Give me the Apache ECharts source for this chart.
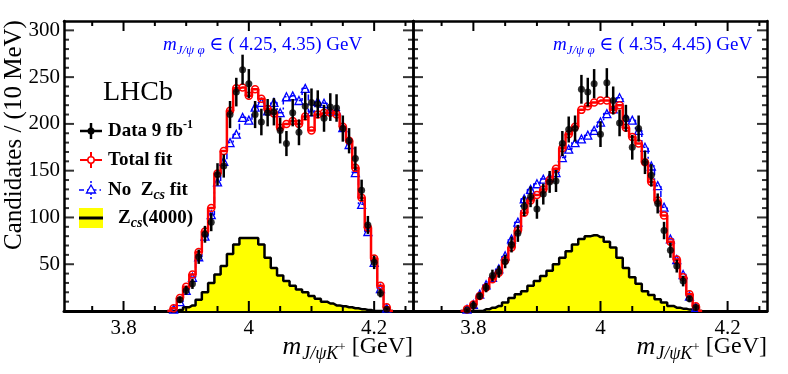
<!DOCTYPE html>
<html>
<head>
<meta charset="utf-8">
<script src="https://cdn.jsdelivr.net/npm/echarts@6/dist/echarts.min.js"></script>
<style>
  html, body { margin: 0; padding: 0; background: #fff; }
  #chart { width: 788px; height: 374px; }
</style>
</head>
<body>
<div id="chart"></div>
<script>
// bin centres, 10 MeV bins [GeV]
const leftBins = [3.87, 3.88, 3.89, 3.90, 3.91, 3.92, 3.93, 3.94, 3.95, 3.96, 3.97, 3.98, 3.99,
  4.00, 4.01, 4.02, 4.03, 4.04, 4.05, 4.06, 4.07, 4.08, 4.09, 4.10, 4.11, 4.12, 4.13, 4.14,
  4.15, 4.16, 4.17, 4.18, 4.19, 4.20, 4.21, 4.22, 4.23];
const rightBins = [3.78, 3.79, 3.80, 3.81, 3.82, 3.83, 3.84, 3.85, 3.86, 3.87, 3.88, 3.89, 3.90,
  3.91, 3.92, 3.93, 3.94, 3.95, 3.96, 3.97, 3.98, 3.99, 4.00, 4.01, 4.02, 4.03, 4.04, 4.05,
  4.06, 4.07, 4.08, 4.09, 4.10, 4.11, 4.12, 4.13, 4.14, 4.15, 4.16];

// m(J/psi phi) in (4.25, 4.35) GeV
const leftData = [null, null, 12, 22, 29, 58, 82, 95, 146, 155, 210, 234, 258, 243, 210, 202, 212,
  213, 193, 179, 212, 191, 219, 223, 221, 206, 218, 217, 195, 182, 163, 129, 92, 52, 19, 2, null];
const leftErr = [null, null, 3.5, 4.7, 5.4, 7.6, 9, 9.7, 12, 12.4, 14.5, 15.3, 16, 15.6, 14.5, 14.2,
  14.6, 14.6, 13.9, 13.4, 14.6, 13.8, 14.8, 14.9, 14.9, 14.4, 14.8, 14.7, 14, 13.5, 12.8, 11.4,
  9.6, 7.2, 4.4, 1.4, null];
const leftTotal = [0, 3, 14, 26, 39, 63, 85, 110, 147, 171, 214, 238, 239, 230, 237, 227, 216, 211,
  196, 200, 203, 200, 208, 193, 210, 212, 212, 210, 197, 182, 153, 121, 89, 56, 27, 4, 0];
const leftNoZcs = [0, 2, 10, 22, 36, 58, 80, 103, 138, 160, 180, 189, 207, 204, 218, 223, 214, 223,
  212, 229, 230, 225, 238, 213, 224, 222, 214, 214, 196, 178, 148, 114, 85, 52, 24, 3, 0];
const leftZcs = [0, 0, 1, 4, 6, 12, 20, 30, 39, 48, 61, 71, 78, 78, 78, 71, 57, 46, 38, 32, 27, 23,
  20, 16, 13, 10, 8, 6, 5, 4, 3, 2, 1, 0, 0, 0, 0];

// m(J/psi phi) in (4.35, 4.45) GeV
const rightData = [null, 1, 6, 16, 25, 38, 42, 53, 71, 83, 112, 122, 109, 125, 138, 139, 179, 194,
  195, 237, 234, 243, 189, 244, 225, 201, 206, 175, 195, 159, 145, 115, 86, 65, 48, 32, 13, 4, null];
const rightErr = [null, 1, 2.4, 4, 5, 6.2, 6.5, 7.3, 8.4, 9.1, 10.6, 11, 10.4, 11.2, 11.7, 11.8,
  13.4, 13.9, 14, 15.4, 15.3, 15.6, 13.7, 15.6, 15, 14.2, 14.4, 13.2, 14, 12.6, 12, 10.7, 9.3,
  8.1, 6.9, 5.7, 3.6, 2, null];
const rightTotal = [0, 2, 7, 16, 25, 34, 41, 54, 68, 86, 105, 118, 124, 130, 140, 152, 174, 189,
  197, 215, 219, 223, 225, 225, 215, 220, 196, 186, 179, 159, 138, 118, 102, 74, 55, 36, 18, 5, 0];
const rightNoZcs = [0, 2, 7, 18, 28, 36, 45, 59, 77, 95, 120, 130, 136, 141, 143, 148, 164, 173,
  180, 184, 188, 193, 202, 211, 216, 228, 207, 204, 193, 175, 155, 134, 111, 77, 55, 39, 16, 4, 0];
const rightZcs = [0, 0, 0, 0, 1.8, 3.6, 5.4, 9, 14, 18, 21, 27, 32, 37.5, 43, 50, 57, 64, 71, 77,
  80, 81, 79, 74, 68, 57, 46, 36, 29, 21, 17, 12.5, 9, 5.4, 3.6, 2.5, 1.5, 0, 0];

// axes and ticks
const xRange = [3.705, 4.262];
const xMajor = [3.8, 4, 4.2];
const xMinor = [3.75, 3.85, 3.9, 3.95, 4.05, 4.1, 4.15, 4.25];
const yRange = [0, 310];
const yMajor = [50, 100, 150, 200, 250, 300];
const yMinor = [10, 20, 30, 40, 60, 70, 80, 90, 110, 120, 130, 140, 160, 170, 180, 190,
  210, 220, 230, 240, 260, 270, 280, 290];

const serif = '"Liberation Serif", "DejaVu Serif", serif';
const BLUE = '#0000ff', RED = '#ff0000';

const panels = [
  { left: 64, top: 21, width: 349, height: 290 },
  { left: 413, top: 21, width: 354, height: 290 }
];

const chart = echarts.init(document.getElementById('chart'));

const pairs = (bins, vals) => bins.map((b, i) => [b, vals[i]]).filter(p => p[1] != null);
const triples = (bins, vals, errs) => bins.map((b, i) => [b, vals[i], errs[i]]).filter(p => p[1] != null);

const xAxis = [], yAxis = [];
panels.forEach((M, p) => {
  const xb = { type: 'value', gridIndex: p, min: xRange[0], max: xRange[1], splitLine: { show: false }, axisTick: { show: false } };
  xAxis.push(
    { ...xb, position: 'bottom', axisLine: { onZero: false, lineStyle: { color: '#000', width: 3 } },
      axisLabel: { customValues: xMajor, margin: 7, color: '#000', fontFamily: serif, fontSize: 21 } },
    { ...xb, position: 'top', axisLine: { onZero: false, lineStyle: { color: '#000', width: 2.5 } }, axisLabel: { show: false } }
  );
  const yb = { type: 'value', gridIndex: p, min: yRange[0], max: yRange[1], interval: 50, splitLine: { show: false }, axisTick: { show: false } };
  const line = { show: true, onZero: false, lineStyle: { color: '#000', width: 2.5 } };
  yAxis.push(
    { ...yb, position: 'left', axisLine: line,
      axisLabel: p === 0
        ? { margin: 4, color: '#000', fontFamily: serif, fontSize: 21, formatter: v => yMajor.includes(v) ? String(v) : '' }
        : { show: false } },
    { ...yb, position: 'right', axisLine: line, axisLabel: { show: false } }
  );
});

const tickColor = '#000';

// frame ticks along the bottom and top edges: custom series, coordinates from the panel scales
function xEdgeTicks(p) {
  const data = [...xMajor.map(v => [v, yRange[0], 10]), ...xMinor.map(v => [v, yRange[0], 5])];
  return {
    type: 'custom', name: 'x ticks', xAxisIndex: p * 2, yAxisIndex: p * 2, data, z: 6, silent: true,
    renderItem: (params, api) => {
      const v = api.value(0), len = api.value(2);
      const a = api.coord([v, yRange[0]]), b = api.coord([v, yRange[1]]);
      const style = { stroke: tickColor, lineWidth: 2 };
      return { type: 'group', children: [
        { type: 'line', shape: { x1: a[0], y1: a[1], x2: a[0], y2: a[1] - len }, style },
        { type: 'line', shape: { x1: b[0], y1: b[1], x2: b[0], y2: b[1] + len }, style }
      ] };
    }
  };
}

// frame ticks along the left and right edges: thin rect symbols nudged inward
function yEdgeTicks(p) {
  const data = [];
  [[yMajor, 10], [yMinor, 5]].forEach(([list, len]) => list.forEach(v => {
    data.push({ value: [xRange[0], v], symbolSize: [len, 2], symbolOffset: [len / 2, 0] });
    data.push({ value: [xRange[1], v], symbolSize: [len, 2], symbolOffset: [-len / 2, 0] });
  }));
  return {
    type: 'scatter', name: 'y ticks', xAxisIndex: p * 2, yAxisIndex: p * 2, data, z: 6, silent: true,
    symbol: 'rect', itemStyle: { color: tickColor }
  };
}

function panelSeries(p, bins, data, err, total, noZcs, zcs) {
  const ax = { xAxisIndex: p * 2, yAxisIndex: p * 2 };
  return [
    { ...ax, name: 'Zcs(4000)', type: 'line', step: 'middle', data: pairs(bins, zcs), symbol: 'none', z: 1,
      lineStyle: { color: '#000', width: 2.5 }, areaStyle: { color: '#ffff00', opacity: 1 } },
    { ...ax, name: 'No Zcs fit', type: 'line', step: 'middle', data: pairs(bins, noZcs), z: 2,
      symbol: v => v[1] > 0 ? 'triangle' : 'none', symbolSize: 8,
      itemStyle: { color: 'none', borderColor: BLUE, borderWidth: 1.3 },
      lineStyle: { color: BLUE, width: 1.5, type: [6, 3, 2, 3] } },
    { ...ax, name: 'Total fit', type: 'line', step: 'middle', data: pairs(bins, total), z: 3,
      symbol: v => v[1] > 0 ? 'circle' : 'none', symbolSize: 7,
      itemStyle: { color: 'none', borderColor: RED, borderWidth: 1.5 },
      lineStyle: { color: RED, width: 2.5 } },
    { ...ax, name: 'Data errors', type: 'custom', data: triples(bins, data, err), z: 4, clip: true,
      renderItem: (params, api) => {
        const x = api.value(0), v = api.value(1), e = api.value(2);
        const lo = api.coord([x, v - e]), hi = api.coord([x, v + e]);
        return { type: 'line', shape: { x1: lo[0], y1: lo[1], x2: hi[0], y2: hi[1] },
          style: { stroke: '#000', lineWidth: 2.5 } };
      } },
    { ...ax, name: 'Data 9 fb-1', type: 'scatter', data: pairs(bins, data), z: 5,
      symbol: 'circle', symbolSize: 7, itemStyle: { color: '#000' } },
    xEdgeTicks(p),
    yEdgeTicks(p)
  ];
}

// rich text styles
const xTitleRich = {
  m: { fontFamily: serif, fontStyle: 'italic', fontSize: 26, fill: '#000' },
  s: { fontFamily: serif, fontStyle: 'italic', fontSize: 18, padding: [14, 0, 0, 1], fill: '#000' },
  p: { fontFamily: serif, fontSize: 13, padding: [2, 0, 0, 0], fill: '#000' },
  t: { fontFamily: serif, fontSize: 24, fill: '#000' }
};
const rangeRich = {
  m: { fontFamily: serif, fontStyle: 'italic', fontSize: 19, fill: BLUE },
  s: { fontFamily: serif, fontStyle: 'italic', fontSize: 13, padding: [12, 0, 0, 0], fill: BLUE },
  t: { fontFamily: serif, fontSize: 19, fill: BLUE }
};
const legRich = {
  b: { fontFamily: serif, fontWeight: 'bold', fontSize: 19, fill: '#000' },
  sup: { fontFamily: serif, fontWeight: 'bold', fontSize: 12, padding: [0, 0, 12, 0], fill: '#000' },
  sub: { fontFamily: serif, fontWeight: 'bold', fontStyle: 'italic', fontSize: 14, padding: [10, 0, 0, 0], fill: '#000' }
};

const txt = (x, y, text, rich, align) => ({
  type: 'text', x, y, silent: true,
  style: { text, rich, align: align || 'left', verticalAlign: 'middle' }
});

const graphic = [
  { type: 'text', x: 14, y: 135, rotation: Math.PI / 2, silent: true,
    style: { text: 'Candidates / (10 MeV)', fontFamily: serif, fontSize: 25, fill: '#000', align: 'center', verticalAlign: 'middle' } },
  txt(413, 347, '{m|m}{s|J/ψK}{p|+}{t| [GeV]}', xTitleRich, 'right'),
  txt(767, 347, '{m|m}{s|J/ψK}{p|+}{t| [GeV]}', xTitleRich, 'right'),
  txt(163, 45, '{m|m}{s|J/ψ φ}{t| ∈ ( 4.25, 4.35) GeV}', rangeRich),
  txt(553, 45, '{m|m}{s|J/ψ φ}{t| ∈ ( 4.35, 4.45) GeV}', rangeRich),
  { type: 'text', x: 103, y: 93, silent: true,
    style: { text: 'LHCb', fontFamily: serif, fontSize: 28, fill: '#000', align: 'left', verticalAlign: 'middle' } },
  // legend: data
  { type: 'line', silent: true, shape: { x1: 80, y1: 131, x2: 102, y2: 131 }, style: { stroke: '#000', lineWidth: 2.5 } },
  { type: 'line', silent: true, shape: { x1: 91, y1: 123, x2: 91, y2: 139 }, style: { stroke: '#000', lineWidth: 2.5 } },
  { type: 'circle', silent: true, shape: { cx: 91, cy: 131, r: 3.5 }, style: { fill: '#000' } },
  txt(108, 131, '{b|Data 9 fb}{sup|-1}', legRich),
  // legend: total fit
  { type: 'line', silent: true, shape: { x1: 80, y1: 160, x2: 102, y2: 160 }, style: { stroke: RED, lineWidth: 2 } },
  { type: 'line', silent: true, shape: { x1: 91, y1: 152, x2: 91, y2: 168 }, style: { stroke: RED, lineWidth: 2 } },
  { type: 'circle', silent: true, shape: { cx: 91, cy: 160, r: 3.2 }, style: { fill: '#fff', stroke: RED, lineWidth: 1.5 } },
  txt(108, 160, '{b|Total fit}', legRich),
  // legend: no Zcs fit
  { type: 'line', silent: true, shape: { x1: 79, y1: 190, x2: 103, y2: 190 }, style: { stroke: BLUE, lineWidth: 1.5, lineDash: [5, 3, 1.5, 3] } },
  { type: 'line', silent: true, shape: { x1: 91, y1: 181, x2: 91, y2: 199 }, style: { stroke: BLUE, lineWidth: 1.5, lineDash: [2, 2] } },
  { type: 'polygon', silent: true, shape: { points: [[91, 185], [86.5, 193], [95.5, 193]] }, style: { fill: '#fff', stroke: BLUE, lineWidth: 1.3 } },
  txt(108, 190, '{b|No  Z}{sub|cs}{b| fit}', legRich),
  // legend: Zcs(4000)
  { type: 'rect', silent: true, shape: { x: 79, y: 208, width: 24, height: 20 }, style: { fill: '#ffff00' } },
  { type: 'line', silent: true, shape: { x1: 79, y1: 218, x2: 103, y2: 218 }, style: { stroke: '#000', lineWidth: 3 } },
  txt(118, 218, '{b|Z}{sub|cs}{b|(4000)}', legRich)
];

chart.setOption({
  animation: false,
  backgroundColor: '#fff',
  grid: panels,
  xAxis,
  yAxis,
  series: [
    ...panelSeries(0, leftBins, leftData, leftErr, leftTotal, leftNoZcs, leftZcs),
    ...panelSeries(1, rightBins, rightData, rightErr, rightTotal, rightNoZcs, rightZcs)
  ],
  graphic
});
</script>
</body>
</html>
